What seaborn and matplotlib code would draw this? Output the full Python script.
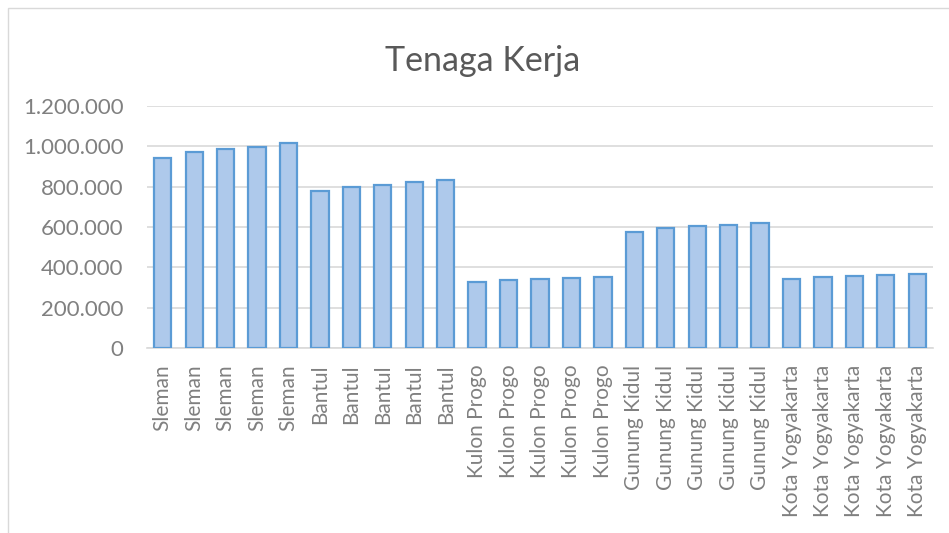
import matplotlib
matplotlib.use("Agg")
import matplotlib.pyplot as plt
import seaborn as sns
import pandas as pd
from matplotlib.ticker import FuncFormatter
from matplotlib.patches import Rectangle

regions = ["Sleman"] * 5 + ["Bantul"] * 5 + ["Kulon Progo"] * 5 + ["Gunung Kidul"] * 5 + ["Kota Yogyakarta"] * 5
values = [
    940000, 972000, 985000, 998000, 1015000,
    777000, 797000, 808000, 821000, 833000,
    329000, 337000, 342000, 347000, 350000,
    577000, 593000, 603000, 610000, 618000,
    342000, 350000, 355000, 360000, 365000,
]
yticks = [0, 200000, 400000, 600000, 800000, 1000000, 1200000]
title = "Tenaga Kerja"

sns.set_theme(style="white")
plt.rcParams["font.family"] = ["Lato", "DejaVu Sans"]

df = pd.DataFrame({"idx": list(range(len(values))), "label": regions, "value": values})

fig = plt.figure(figsize=(9.49, 5.33), dpi=100)
ax = fig.add_axes([147 / 949, 1 - 348 / 533, (933 - 147) / 949, (348 - 106) / 533])

sns.barplot(data=df, x="idx", y="value", color="#aec9eb", edgecolor="#5b9bd5",
            linewidth=1.6, width=0.55, saturation=1, ax=ax, zorder=3)

ax.set_ylim(0, 1200000)
ax.set_yticks(yticks)
ax.yaxis.set_major_formatter(FuncFormatter(lambda v, p: f"{int(v):,}".replace(",", ".")))
ax.set_xticks(range(len(values)))
ax.set_xticklabels(regions, rotation=90, fontsize=15, color="#808080")
ax.tick_params(axis="y", labelsize=16, colors="#808080", length=0, pad=17)
ax.tick_params(axis="x", length=0, pad=12)
ax.set_xlabel("")
ax.set_ylabel("")
ax.grid(axis="y", color="#d9d9d9", linewidth=1.2, zorder=0)
for s in ["top", "right", "left"]:
    ax.spines[s].set_visible(False)
ax.spines["bottom"].set_color("#d9d9d9")
ax.spines["bottom"].set_linewidth(1.2)

fig.text(483 / 949, 1 - 61 / 533, title, ha="center", va="center", fontsize=24.5, color="#595959")

fig.patches.append(Rectangle((8 / 949, -0.1), 1.2, 1 - 8 / 533 + 0.1, transform=fig.transFigure,
                             fill=False, edgecolor="#d9d9d9", linewidth=1))

fig.savefig("out.png", dpi=100)
